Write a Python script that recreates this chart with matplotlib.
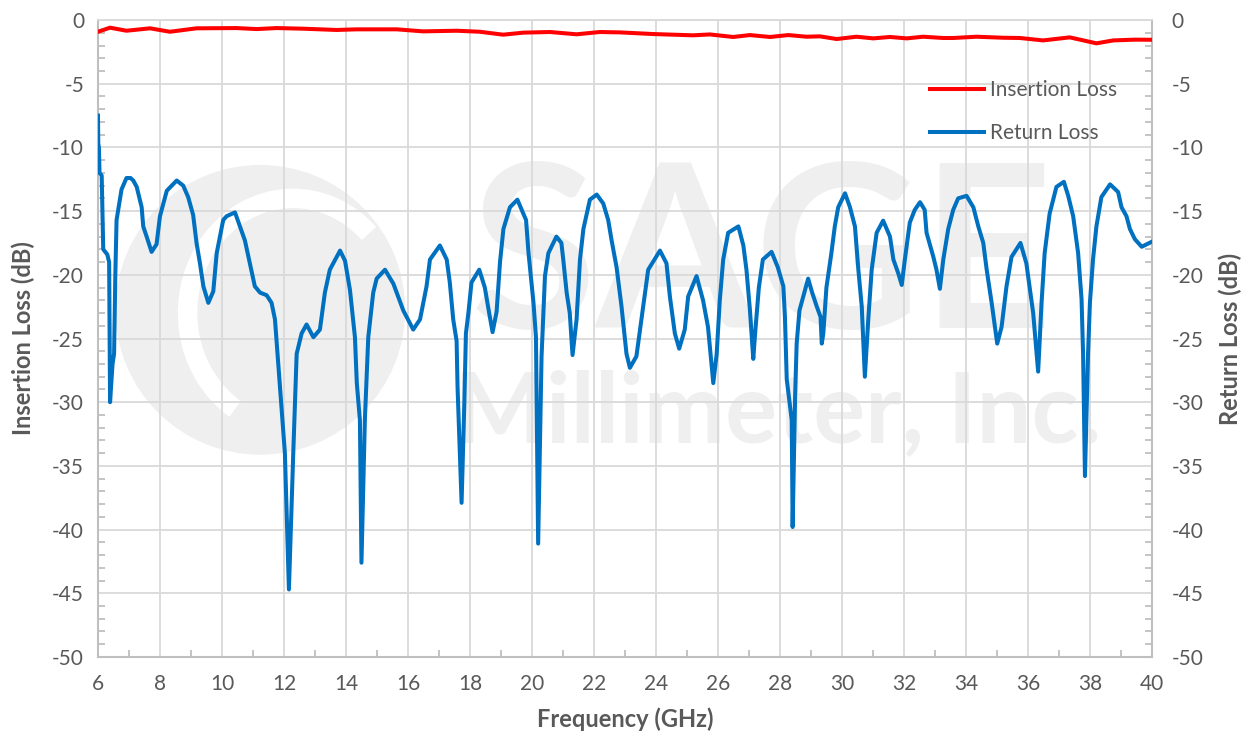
import numpy as np
import matplotlib
matplotlib.use('Agg')
import matplotlib.pyplot as plt
from matplotlib.patches import Ellipse, Arc
from matplotlib.ticker import MultipleLocator

plt.rcParams['font.family'] = ['Lato', 'DejaVu Sans']
plt.rcParams['axes.unicode_minus'] = False

# insertion loss (red)
il_freq = [6.0, 6.39, 6.92, 7.68, 8.32, 9.18, 10.47, 11.12, 11.76, 12.62, 13.7, 14.35,
           15.64, 16.49, 17.57, 18.32, 19.07, 19.72, 20.58, 21.44, 22.19, 22.84, 23.91,
           25.2, 25.74, 26.49, 27.03, 27.68, 28.27, 28.86, 29.29, 29.83, 30.47, 31.01,
           31.55, 32.09, 32.62, 33.27, 33.59, 34.34, 35.2, 35.74, 36.49, 37.35, 38.21,
           38.75, 39.45, 40.0]
il_db = [-0.92, -0.6, -0.84, -0.65, -0.92, -0.65, -0.63, -0.71, -0.63, -0.68, -0.78, -0.73,
         -0.73, -0.89, -0.84, -0.92, -1.15, -0.99, -0.94, -1.12, -0.94, -0.97, -1.1,
         -1.2, -1.13, -1.33, -1.18, -1.33, -1.18, -1.31, -1.28, -1.49, -1.31, -1.44,
         -1.33, -1.44, -1.31, -1.41, -1.41, -1.31, -1.39, -1.41, -1.6, -1.36, -1.83,
         -1.6, -1.54, -1.55]

# return loss (blue)
rl_freq = [6.0, 6.01, 6.03, 6.05, 6.12, 6.17, 6.3, 6.36, 6.39, 6.47, 6.52, 6.56, 6.6,
           6.76, 6.92, 7.05, 7.14, 7.25, 7.41, 7.46, 7.57, 7.73, 7.89, 8.0, 8.22, 8.54,
           8.75, 8.91, 9.07, 9.18, 9.29, 9.4, 9.56, 9.72, 9.83, 10.04, 10.15, 10.42,
           10.58, 10.74, 10.9, 11.06, 11.23, 11.44, 11.6, 11.71, 11.87, 12.03, 12.16,
           12.3, 12.41, 12.57, 12.73, 12.95, 13.16, 13.32, 13.48, 13.81, 13.97, 14.13,
           14.29, 14.35, 14.45, 14.5, 14.61, 14.72, 14.88, 14.99, 15.26, 15.53, 15.85,
           16.17, 16.39, 16.6, 16.71, 17.03, 17.25, 17.35, 17.46, 17.57, 17.6, 17.73,
           17.82, 17.87, 17.95, 18.05, 18.3, 18.48, 18.62, 18.73, 18.86, 18.97, 19.08,
           19.29, 19.53, 19.67, 19.81, 19.89, 20.05, 20.13, 20.2, 20.31, 20.42, 20.53,
           20.79, 20.95, 21.01, 21.12, 21.22, 21.31, 21.44, 21.55, 21.66, 21.87, 22.09,
           22.3, 22.46, 22.57, 22.73, 22.89, 23.05, 23.16, 23.37, 23.59, 23.75, 24.13,
           24.34, 24.45, 24.61, 24.75, 24.93, 25.04, 25.31, 25.52, 25.68, 25.85, 25.96,
           26.06, 26.17, 26.33, 26.66, 26.82, 26.92, 27.03, 27.14, 27.2, 27.32, 27.45,
           27.73, 27.93, 28.11, 28.16, 28.22, 28.38, 28.41, 28.49, 28.54, 28.63, 28.91,
           29.04, 29.19, 29.31, 29.35, 29.4, 29.5, 29.66, 29.77, 29.88, 30.1, 30.26,
           30.42, 30.53, 30.64, 30.74, 30.85, 30.96, 31.12, 31.33, 31.55, 31.66, 31.82,
           31.93, 32.03, 32.19, 32.35, 32.52, 32.67, 32.73, 32.95, 33.05, 33.16, 33.27,
           33.43, 33.59, 33.75, 34.02, 34.24, 34.4, 34.56, 34.67, 34.83, 35.01, 35.15,
           35.31, 35.47, 35.76, 35.95, 36.17, 36.33, 36.44, 36.54, 36.7, 36.92, 37.16,
           37.3, 37.46, 37.62, 37.73, 37.78, 37.84, 37.94, 38.0, 38.1, 38.21, 38.37,
           38.65, 38.91, 39.02, 39.18, 39.29, 39.45, 39.67, 40.0]
rl_db = [-7.5, -9.7, -10.0, -12.0, -12.2, -18.0, -18.4, -19.0, -30.0, -27.0, -26.2, -20.0, -15.7,
         -13.3, -12.4, -12.4, -12.6, -13.1, -14.7, -16.2, -17.0, -18.2, -17.6, -15.4, -13.4, -12.6,
         -13.0, -13.9, -15.3, -17.5, -19.1, -20.9, -22.2, -21.3, -18.3, -15.7, -15.4, -15.1,
         -16.2, -17.3, -19.1, -20.9, -21.4, -21.6, -22.2, -23.5, -28.8, -34.0, -44.7,
         -34.0, -26.2, -24.6, -23.9, -24.9, -24.3, -21.4, -19.6, -18.1, -18.9, -21.2,
         -24.9, -28.5, -31.4, -42.6, -31.4, -24.9, -21.4, -20.3, -19.6, -20.7, -22.8,
         -24.3, -23.5, -20.9, -18.8, -17.7, -18.8, -20.6, -23.5, -25.2, -28.8, -37.9,
         -30.0, -24.6, -23.0, -20.6, -19.6, -21.0, -23.0, -24.5, -22.9, -19.0, -16.4,
         -14.7, -14.1, -14.9, -15.7, -18.3, -22.2, -24.9, -41.1, -26.4, -20.1, -18.3,
         -17.0, -17.5, -18.8, -21.4, -23.0, -26.3, -23.5, -18.8, -16.4, -14.1, -13.7,
         -14.4, -15.7, -17.3, -19.4, -22.5, -26.2, -27.3, -26.4, -22.5, -19.6, -18.1,
         -19.1, -21.7, -24.6, -25.8, -24.3, -21.7, -20.1, -22.0, -24.1, -28.5, -26.2,
         -22.0, -18.8, -16.7, -16.2, -17.7, -19.6, -22.7, -26.6, -24.6, -21.0, -18.8,
         -18.2, -19.4, -20.9, -23.2, -28.2, -31.4, -39.8, -29.5, -25.4, -22.8, -20.3,
         -21.4, -22.5, -23.3, -25.4, -24.6, -21.0, -18.3, -16.2, -14.7, -13.6, -14.7,
         -16.2, -19.6, -22.5, -28.0, -23.5, -19.6, -16.7, -15.75, -17.0, -18.8, -19.9,
         -20.8, -18.8, -15.9, -14.9, -14.3, -14.9, -16.7, -18.6, -19.6, -21.1, -18.8,
         -16.4, -14.9, -14.0, -13.8, -14.7, -16.2, -17.5, -19.6, -22.2, -25.4, -24.1,
         -20.9, -18.6, -17.5, -19.1, -23.0, -27.6, -22.2, -18.3, -15.2, -13.1, -12.7,
         -13.8, -15.4, -18.3, -21.9, -26.2, -35.8, -26.2, -22.2, -18.8, -16.2, -13.9,
         -12.9, -13.5, -14.7, -15.4, -16.4, -17.2, -17.8, -17.4]

text_col = '#595959'
grid_col = '#D9D9D9'
axis_col = '#BFBFBF'
wm_col = '#EFEFEF'

fig = plt.figure(figsize=(12.48, 7.42), dpi=100)
ax = fig.add_axes([0.0785, 0.1146, 0.8445, 0.8584])

# faint watermark
ax.add_patch(Ellipse((0.154, 0.545), 0.275, 0.455, transform=ax.transAxes,
                     color=wm_col, zorder=0, lw=0))
ax.add_patch(Arc((0.185, 0.54), 0.2, 0.36, theta1=60, theta2=250, transform=ax.transAxes,
                 color='white', lw=14, zorder=0))
ax.text(0.63, 0.62, 'SAGE', transform=ax.transAxes, ha='center', va='center',
        fontsize=165, fontweight='bold', color=wm_col, zorder=0)
ax.text(0.645, 0.38, 'Millimeter, Inc.', transform=ax.transAxes, ha='center', va='center',
        fontsize=70, fontweight='bold', color=wm_col, zorder=0)

ax.plot(il_freq, il_db, color='#FF0000', lw=2.9, label='Insertion Loss', zorder=3)
ax.plot(rl_freq, rl_db, color='#0070C0', lw=2.9, label='Return Loss', zorder=3)

ax.set_xlim(6, 40)
ax.set_ylim(-50, 0)
ax.xaxis.set_major_locator(MultipleLocator(2))
ax.xaxis.set_minor_locator(MultipleLocator(1))
ax.yaxis.set_major_locator(MultipleLocator(5))
ax.yaxis.set_minor_locator(MultipleLocator(1))
ax.grid(True, which='major', color=grid_col, lw=1.3, zorder=1)
ax.set_axisbelow(True)

for s in ['left', 'bottom', 'right']:
    ax.spines[s].set_color(axis_col)
    ax.spines[s].set_linewidth(1.5)
ax.spines['top'].set_color(grid_col)
ax.spines['top'].set_linewidth(1.3)

ax.tick_params(axis='both', which='major', labelsize=15, labelcolor=text_col, length=0, pad=10)
ax.tick_params(axis='x', which='minor', direction='in', length=5, color=axis_col, width=1.3)
ax.tick_params(axis='y', which='minor', direction='in', length=5, color=axis_col, width=1.3)
ax.tick_params(axis='x', which='major', pad=12)

ax2 = ax.twinx()
ax2.set_ylim(-50, 0)
ax2.yaxis.set_major_locator(MultipleLocator(5))
ax2.yaxis.set_minor_locator(MultipleLocator(1))
ax2.tick_params(axis='y', which='major', labelsize=15, labelcolor=text_col, length=0, pad=14)
ax2.tick_params(axis='y', which='minor', direction='in', length=5, color=axis_col, width=1.3)
for s in ax2.spines.values():
    s.set_visible(False)

ax.set_xlabel('Frequency (GHz)', fontsize=17, fontweight='bold', color=text_col, labelpad=10)
ax.set_ylabel('Insertion Loss (dB)', fontsize=17, fontweight='bold', color=text_col, labelpad=12)
ax2.set_ylabel('Return Loss (dB)', fontsize=17, fontweight='bold', color=text_col, labelpad=11)

ax.legend(loc='upper right', bbox_to_anchor=(0.985, 0.935), frameon=False, fontsize=15,
          labelcolor=text_col, handlelength=2.6, handletextpad=0.3, labelspacing=1.1)

fig.savefig('out.png', dpi=100)
